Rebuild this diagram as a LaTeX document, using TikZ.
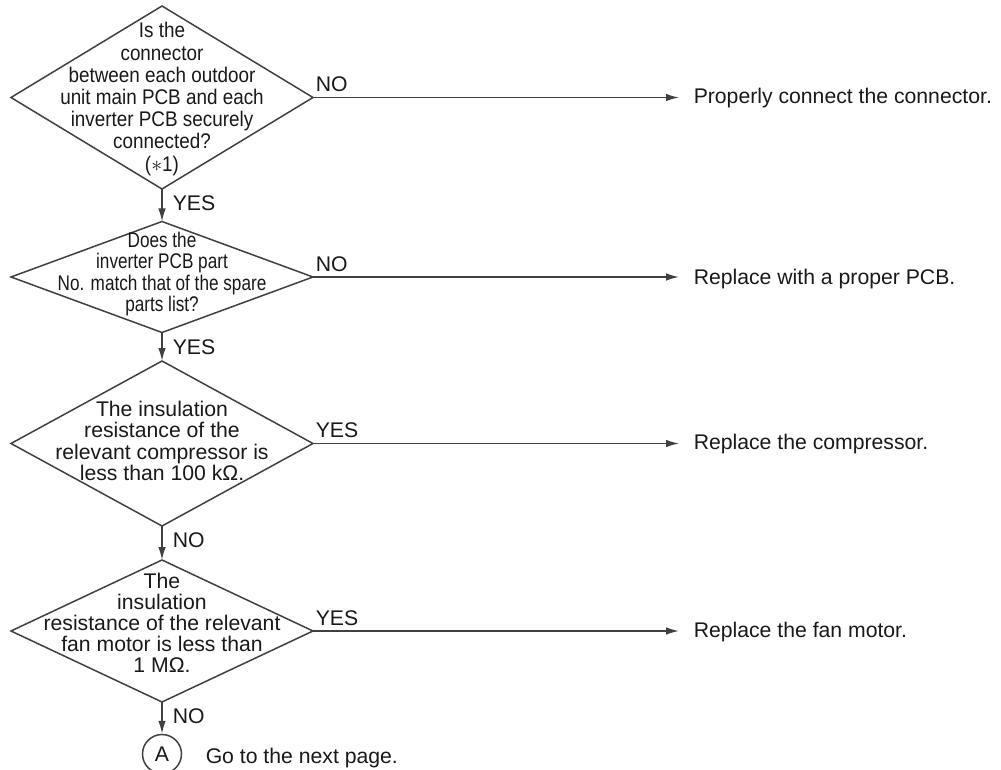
\documentclass[tikz,border=0pt]{standalone}
\usepackage{fontspec}
\setmainfont{Liberation Sans}
\newfontfamily\condfont[FakeStretch=0.89]{Liberation Sans}
\newfontfamily\tightfont[FakeStretch=0.81]{Liberation Sans}
\usetikzlibrary{arrows.meta,shapes.geometric,positioning}

\begin{document}
\begin{tikzpicture}[x=0.5pt,y=-0.5pt,line width=0.75pt,
  dec/.style={draw=black!75,diamond,inner sep=0pt,outer sep=0pt,minimum width=151pt},
  qtxt/.style={align=center,inner sep=0pt,text=black!90},
  act/.style={anchor=west,inner xsep=7pt,inner ysep=0pt,font=\fontsize{10.6}{12}\selectfont,text=black!90},
  flow/.style={draw=black!75,-{Latex[length=6.5pt,width=3.8pt]}},
  lblr/.style={pos=0,anchor=south west,inner xsep=1pt,inner ysep=2.5pt,font=\fontsize{10.6}{12}\selectfont,text=black!90},
  lbld/.style={pos=0,anchor=north west,inner xsep=5pt,inner ysep=3pt,font=\fontsize{10.6}{12}\selectfont,text=black!90}]
\useasboundingbox (0,0) rectangle (1001,770);

% decisions
\node[dec,minimum height=91.5pt] (d1) at (162,97.5) {};
\node[qtxt,font=\condfont\fontsize{10.6}{11.1}\selectfont] at (162,99) {Is the\\connector\\between each outdoor\\unit main PCB and each\\inverter PCB securely\\connected?\\($\ast$1)};
\node[dec,minimum height=55.5pt] (d2) at (162,277) {};
\node[qtxt,font=\tightfont\fontsize{10.6}{10.8}\selectfont] at (162,274) {Does the\\inverter PCB part\\No. match that of the spare\\parts list?};
\node[dec,minimum height=82.5pt] (d3) at (162,443.5) {};
\node[qtxt,font=\fontsize{10.6}{10.8}\selectfont] at (162,441) {The insulation\\resistance of the\\relevant compressor is\\less than 100 kΩ.};
\node[dec,minimum height=71pt] (d4) at (162,631) {};
\node[qtxt,font=\fontsize{10.6}{10.5}\selectfont] at (162,623) {The\\insulation\\resistance of the relevant\\fan motor is less than\\1 MΩ.};

% actions
\node[act] (r1) at (679,98) {Properly connect the connector.};
\node[act] (r2) at (679,279) {Replace with a proper PCB.};
\node[act] (r3) at (679,444) {Replace the compressor.};
\node[act] (r4) at (679,632) {Replace the fan motor.};
\node[circle,draw=black!75,text=black!90,minimum size=19.5pt,inner sep=0pt,font=\fontsize{10.6}{12}\selectfont] (pA) at (162,754) {A};
\node[act] (next) at (191,758) {Go to the next page.};

\draw[flow] (d1.east) -- (d1.east -| r1.west) node[lblr] {NO};
\draw[flow] (d2.east) -- (d2.east -| r2.west) node[lblr] {NO};
\draw[flow] (d3.east) -- (d3.east -| r3.west) node[lblr] {YES};
\draw[flow] (d4.east) -- (d4.east -| r4.west) node[lblr] {YES};
\draw[flow] (d1.south) -- (d2.north) node[lbld] {YES};
\draw[flow] (d2.south) -- (d3.north) node[lbld] {YES};
\draw[flow] (d3.south) -- (d4.north) node[lbld] {NO};
\draw[flow] (d4.south) -- (pA.north) node[lbld] {NO};
\end{tikzpicture}
\end{document}
